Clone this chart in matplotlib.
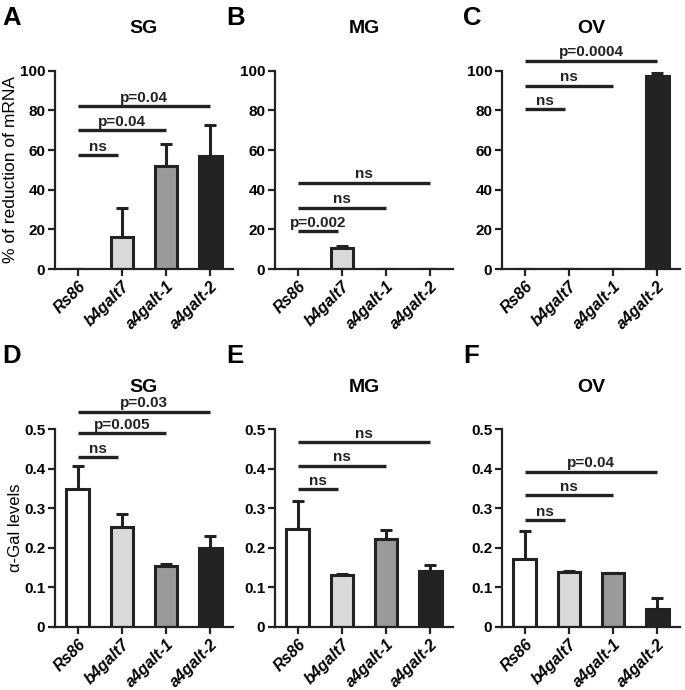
import matplotlib
matplotlib.use('Agg')
import matplotlib.pyplot as plt
from matplotlib.ticker import FuncFormatter

plt.rcParams['font.family'] = ['Liberation Sans', 'DejaVu Sans']

groups = ['Rs86', 'b4galt7', 'a4galt-1', 'a4galt-2']
bar_colors = ['#ffffff', '#d9d9d9', '#9a9a9a', '#232323']

# % of reduction of mRNA
sg_mrna = [0, 16, 52, 57]
sg_mrna_err = [0, 15, 11, 15.5]
mg_mrna = [0, 10.5, 0, 0]
mg_mrna_err = [0, 1.2, 0, 0]
ov_mrna = [0, 0, 0, 97.5]
ov_mrna_err = [0, 0, 0, 1.5]

# alpha-Gal levels
sg_gal = [0.35, 0.252, 0.155, 0.2]
sg_gal_err = [0.058, 0.033, 0.004, 0.029]
mg_gal = [0.248, 0.131, 0.222, 0.142]
mg_gal_err = [0.07, 0.003, 0.023, 0.016]
ov_gal = [0.173, 0.139, 0.136, 0.046]
ov_gal_err = [0.069, 0.002, 0.001, 0.028]

# significance bars: Rs86 vs each other group
sig_a_y = [57.5, 70, 82]
sig_a_txt = ['ns', 'p=0.04', 'p=0.04']
sig_b_y = [19, 31, 43.5]
sig_b_txt = ['p=0.002', 'ns', 'ns']
sig_c_y = [80.5, 92.5, 105]
sig_c_txt = ['ns', 'ns', 'p=0.0004']
sig_d_y = [0.43, 0.49, 0.545]
sig_d_txt = ['ns', 'p=0.005', 'p=0.03']
sig_e_y = [0.348, 0.408, 0.468]
sig_e_txt = ['ns', 'ns', 'ns']
sig_f_y = [0.27, 0.333, 0.393]
sig_f_txt = ['ns', 'ns', 'p=0.04']

panels = [
    ('A', 'SG', sg_mrna, sg_mrna_err, sig_a_y, sig_a_txt, 'mrna'),
    ('B', 'MG', mg_mrna, mg_mrna_err, sig_b_y, sig_b_txt, 'mrna'),
    ('C', 'OV', ov_mrna, ov_mrna_err, sig_c_y, sig_c_txt, 'mrna'),
    ('D', 'SG', sg_gal, sg_gal_err, sig_d_y, sig_d_txt, 'gal'),
    ('E', 'MG', mg_gal, mg_gal_err, sig_e_y, sig_e_txt, 'gal'),
    ('F', 'OV', ov_gal, ov_gal_err, sig_f_y, sig_f_txt, 'gal'),
]

W, H = 685, 690
fig = plt.figure(figsize=(6.85, 6.9), dpi=100)

lefts = [55, 275, 502]
rows = [(70.7, 269), (429.3, 627)]
letter_x = [2, 226, 463]
letter_y = [25, 363]
dark = '#222222'

x = list(range(len(groups)))
for i, (letter, title, vals, errs, sig_y, sig_txt, kind) in enumerate(panels):
    r, c = divmod(i, 3)
    top, bot = rows[r]
    ax = fig.add_axes([lefts[c] / W, 1 - bot / H, 178 / W, (bot - top) / H])
    ax.bar(x, vals, width=0.52, color=bar_colors, edgecolor=dark, linewidth=2.2, zorder=2)
    ax.errorbar(x, vals, yerr=[[0] * len(errs), errs], fmt='none', ecolor=dark,
                elinewidth=2.2, capsize=4.5, capthick=2.2, zorder=1)
    for j, (yy, t) in enumerate(zip(sig_y, sig_txt)):
        end = j + 1 - (0.08 if j == 0 else 0)
        ax.plot([0, end], [yy, yy], color=dark, lw=2.4, clip_on=False, solid_capstyle='butt')
        ax.annotate(t, (end / 2, yy), xytext=(0, 1), textcoords='offset points',
                    ha='center', va='bottom', fontsize=11, fontweight='bold',
                    color=dark, annotation_clip=False)
    ax.set_xlim(-0.52, 3.52)
    if kind == 'mrna':
        ax.set_ylim(0, 100)
        ax.set_yticks([0, 20, 40, 60, 80, 100])
        if c == 0:
            ax.set_ylabel('% of reduction of mRNA', fontsize=12.5, labelpad=1)
    else:
        ax.set_ylim(0, 0.5)
        ax.set_yticks([0, 0.1, 0.2, 0.3, 0.4, 0.5])
        ax.yaxis.set_major_formatter(FuncFormatter(lambda v, p: '0' if v == 0 else '%g' % v))
        if c == 0:
            ax.set_ylabel('α-Gal levels', fontsize=12, labelpad=1)
    ax.set_xticks(x)
    ax.set_xticklabels(groups, rotation=45, ha='right', rotation_mode='anchor',
                       fontweight='bold', fontstyle='italic', fontsize=11.5)
    for lab in ax.get_yticklabels():
        lab.set_fontweight('bold')
        lab.set_fontsize(11)
    ax.spines['top'].set_visible(False)
    ax.spines['right'].set_visible(False)
    for s in ('left', 'bottom'):
        ax.spines[s].set_linewidth(1.6)
        ax.spines[s].set_color(dark)
    ax.tick_params(axis='both', length=5, width=1.6, color=dark, pad=2)
    ax.set_title(title, fontsize=14, fontweight='bold', pad=27)
    fig.text(letter_x[c] / W, 1 - letter_y[r] / H, letter, fontsize=18.5,
             fontweight='bold', va='baseline', ha='left')

fig.savefig('out.png', dpi=100)
